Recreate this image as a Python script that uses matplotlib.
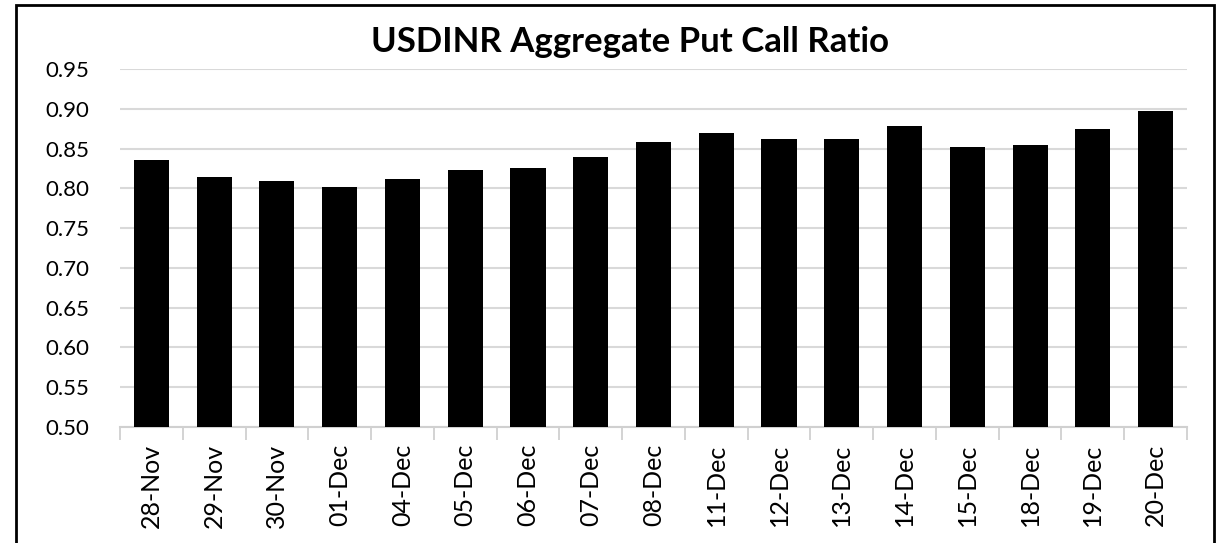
import numpy as np
import matplotlib.pyplot as plt
from matplotlib.patches import Rectangle

dates = ["28-Nov", "29-Nov", "30-Nov", "01-Dec", "04-Dec", "05-Dec", "06-Dec",
         "07-Dec", "08-Dec", "11-Dec", "12-Dec", "13-Dec", "14-Dec", "15-Dec",
         "18-Dec", "19-Dec", "20-Dec"]
pcr = [0.835, 0.814, 0.809, 0.802, 0.812, 0.823, 0.825, 0.840, 0.858,
       0.869, 0.862, 0.862, 0.878, 0.852, 0.855, 0.874, 0.897]
yticks = [0.50, 0.55, 0.60, 0.65, 0.70, 0.75, 0.80, 0.85, 0.90, 0.95]

plt.rcParams["font.family"] = ["Lato", "DejaVu Sans"]

W, H = 1223, 543
fig = plt.figure(figsize=(W / 100, H / 100), dpi=100)
ax = fig.add_axes([120 / W, 1 - 427 / H, (1187 - 120) / W, (427 - 69) / H])

x = np.arange(len(dates))
ax.bar(x, pcr, width=0.56, color="black", zorder=3)
ax.set_xlim(-0.5, len(dates) - 0.5)
ax.set_ylim(0.50, 0.95)
ax.set_yticks(yticks)
ax.set_yticklabels([f"{v:.2f}" for v in yticks], fontsize=16)
ax.set_xticks(x)
ax.set_xticklabels(dates, rotation=90, fontsize=18)
ax.tick_params(axis="x", length=0, pad=12)
ax.tick_params(axis="y", length=0, pad=22)
ax.set_xticks(np.arange(len(dates) + 1) - 0.5, minor=True)
ax.tick_params(axis="x", which="minor", length=9, color="#d0d0d0", width=1.3)
ax.grid(axis="y", color="#d9d9d9", linewidth=1.5, zorder=0)
for s in ["top", "right", "left"]:
    ax.spines[s].set_visible(False)
ax.spines["bottom"].set_color("#d0d0d0")
ax.spines["bottom"].set_linewidth(1.5)

fig.text(630 / W, 1 - 42 / H, "USDINR Aggregate Put Call Ratio", ha="center", va="center",
         fontsize=25, fontweight="bold")

fig.patches.append(Rectangle((16 / W, -0.05), (1214 - 16) / W, 1 - 5 / H + 0.05,
                             transform=fig.transFigure, fill=False, edgecolor="black",
                             linewidth=2))

fig.savefig("out.png", dpi=100)
